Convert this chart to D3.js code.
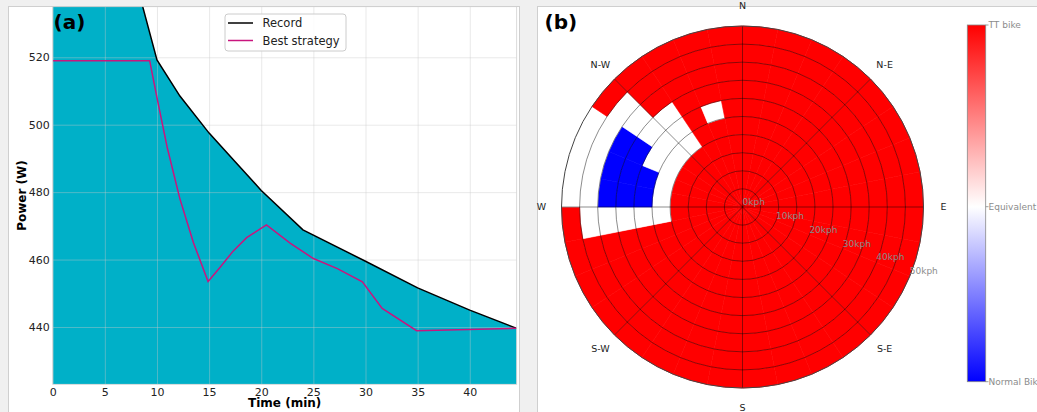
<!DOCTYPE html>
<html>
<head>
<meta charset="utf-8">
<script src="https://cdn.jsdelivr.net/npm/d3@7"></script>
<style>
body { margin: 0; background: #f0f0f0; }
svg { display: block; font-family: "DejaVu Sans", sans-serif; }
</style>
</head>
<body>
<svg id="fig" width="1037" height="412"></svg>
<script>
// ---- (a) power curves ----
var recordTime  = [0, 5, 10, 12.2, 15, 17.5, 20, 24, 30, 35, 40, 44.5];
var recordPower = [635, 577, 519.2, 508.5, 497.5, 489, 480.5, 468.8, 459.5, 451.6, 445, 439.6];
var bestTime  = [0, 9.3, 10, 11, 12.2, 13.5, 14.9, 16, 17.3, 18.6, 20.5, 22.8, 25, 27.3, 29.7, 31.6, 34.9, 44.5];
var bestPower = [519, 519, 508, 493, 478, 465, 453.5, 457.5, 462.5, 466.5, 470.3, 464.8, 460.3, 457.3, 453.4, 445.5, 438.9, 439.6];
var xTicks = [0, 5, 10, 15, 20, 25, 30, 35, 40];
var yTicks = [440, 460, 480, 500, 520];

// ---- (b) polar map: rows = speed bins (5 kph), columns = 32 wind sectors clockwise from N ----
var directionLabels = ["N", "N-E", "E", "S-E", "S", "S-W", "W", "N-W"];
var speedBins = [0, 5, 10, 15, 20, 25, 30, 35, 40, 45, 50];
var speedTicks = [0, 10, 20, 30, 40, 50];
var advantage = [
  [1,1,1,1,1,1,1,1, 1,1,1,1,1,1,1,1, 1,1,1,1,1,1,1,1, 1,1,1,1,1,1,1,1],
  [1,1,1,1,1,1,1,1, 1,1,1,1,1,1,1,1, 1,1,1,1,1,1,1,1, 1,1,1,1,1,1,1,1],
  [1,1,1,1,1,1,1,1, 1,1,1,1,1,1,1,1, 1,1,1,1,1,1,1,1, 1,1,1,1,1,1,1,1],
  [1,1,1,1,1,1,1,1, 1,1,1,1,1,1,1,1, 1,1,1,1,1,1,1,1, 1,1,1,1,1,1,1,1],
  [1,1,1,1,1,1,1,1, 1,1,1,1,1,1,1,1, 1,1,1,1,1,1,1,0, 0,0,0,0,0,1,1,1],
  [1,1,1,1,1,1,1,1, 1,1,1,1,1,1,1,1, 1,1,1,1,1,1,1,0, -1,-1,0,0,0,1,0,1],
  [1,1,1,1,1,1,1,1, 1,1,1,1,1,1,1,1, 1,1,1,1,1,1,1,0, -1,-1,-1,0,0,1,1,1],
  [1,1,1,1,1,1,1,1, 1,1,1,1,1,1,1,1, 1,1,1,1,1,1,1,0, -1,-1,-1,0,1,1,1,1],
  [1,1,1,1,1,1,1,1, 1,1,1,1,1,1,1,1, 1,1,1,1,1,1,1,0, 0,0,0,0,1,1,1,1],
  [1,1,1,1,1,1,1,1, 1,1,1,1,1,1,1,1, 1,1,1,1,1,1,1,1, 0,0,0,1,1,1,1,1]
];
var colorbarTicks = [1, 0, -1];
var colorbarLabels = ["TT bike", "Equivalent", "Normal Bike"];

var svg = d3.select("#fig");

// panels
svg.append("rect").attr("x", 8.5).attr("y", 6.5).attr("width", 511).attr("height", 410)
    .attr("fill", "#fff").attr("stroke", "#cfcfcf");
svg.append("rect").attr("x", 537.5).attr("y", 6.5).attr("width", 505).attr("height", 410)
    .attr("fill", "#fff").attr("stroke", "#cfcfcf");

// ===== (a) =====
var x = d3.scaleLinear().domain([0, 44.5]).range([52.7, 516.7]);
var y = d3.scaleLinear().domain([423, 535]).range([384.3, 6.7]);

svg.append("clipPath").attr("id", "clipA")
    .append("rect").attr("x", 52.7).attr("y", 6.7).attr("width", 464).attr("height", 377.6);

var record = recordTime.map(function (t, i) { return { t: t, p: recordPower[i] }; });
var best = bestTime.map(function (t, i) { return { t: t, p: bestPower[i] }; });

var plotA = svg.append("g").attr("clip-path", "url(#clipA)");

plotA.append("path")
    .datum(record)
    .attr("fill", "#00b0c8")
    .attr("d", d3.area()
        .x(function (d) { return x(d.t); })
        .y0(y(423))
        .y1(function (d) { return y(d.p); }));

// gridlines
plotA.append("g")
    .attr("transform", "translate(0,384.3)")
    .call(d3.axisBottom(x).tickValues(xTicks).tickSize(-377.6).tickFormat(""))
    .call(function (g) { g.select(".domain").remove(); })
    .selectAll("line").attr("stroke", "#c8c8c8").attr("stroke-opacity", 0.4);
plotA.append("g")
    .attr("transform", "translate(52.7,0)")
    .call(d3.axisLeft(y).tickValues(yTicks).tickSize(-464).tickFormat(""))
    .call(function (g) { g.select(".domain").remove(); })
    .selectAll("line").attr("stroke", "#c8c8c8").attr("stroke-opacity", 0.4);

plotA.append("path")
    .datum(record)
    .attr("fill", "none")
    .attr("stroke", "#000")
    .attr("stroke-width", 1.5)
    .attr("d", d3.line()
        .x(function (d) { return x(d.t); })
        .y(function (d) { return y(d.p); }));

plotA.append("path")
    .datum(best)
    .attr("fill", "none")
    .attr("stroke", "#c9157e")
    .attr("stroke-width", 1.5)
    .attr("d", d3.line()
        .x(function (d) { return x(d.t); })
        .y(function (d) { return y(d.p); }));

svg.append("rect").attr("x", 52.7).attr("y", 6.7).attr("width", 464).attr("height", 377.6)
    .attr("fill", "none").attr("stroke", "#d0d0d0").attr("stroke-width", 0.8);

// axes
var xAxis = svg.append("g")
    .attr("transform", "translate(0,384.3)")
    .call(d3.axisBottom(x).tickValues(xTicks).tickSize(0).tickPadding(4));
xAxis.select(".domain").remove();
xAxis.selectAll("text").attr("font-size", 11).attr("fill", "#222").attr("font-family", "DejaVu Sans");

var yAxis = svg.append("g")
    .attr("transform", "translate(52.7,0)")
    .call(d3.axisLeft(y).tickValues(yTicks).tickSize(0).tickPadding(3));
yAxis.select(".domain").remove();
yAxis.selectAll("text").attr("font-size", 11).attr("fill", "#222").attr("font-family", "DejaVu Sans");

svg.append("text")
    .attr("x", 284.7).attr("y", 406.5)
    .attr("text-anchor", "middle")
    .attr("font-size", 12).attr("font-weight", "bold")
    .text("Time (min)");
svg.append("text")
    .attr("transform", "translate(26,195.5) rotate(-90)")
    .attr("text-anchor", "middle")
    .attr("font-size", 12).attr("font-weight", "bold")
    .text("Power (W)");

// legend
var legend = svg.append("g");
legend.append("rect").attr("x", 225).attr("y", 14).attr("width", 121).attr("height", 37).attr("rx", 3)
    .attr("fill", "#fff").attr("fill-opacity", 0.85).attr("stroke", "#cccccc");
var legendItems = [{ name: "Record", color: "#000", y: 23 }, { name: "Best strategy", color: "#c9157e", y: 40.5 }];
legendItems.forEach(function (d) {
    legend.append("line").attr("x1", 228).attr("x2", 253).attr("y1", d.y).attr("y2", d.y)
        .attr("stroke", d.color).attr("stroke-width", 1.5);
    legend.append("text").attr("x", 262.5).attr("y", d.y).attr("dy", "0.35em")
        .attr("font-size", 11.5).attr("fill", "#222").text(d.name);
});

svg.append("text").attr("x", 53.5).attr("y", 29).attr("font-size", 20).attr("font-weight", "bold").text("(a)");

// ===== (b) =====
var cx = 742.5, cy = 207, R = 181;
var r = d3.scaleLinear().domain([0, 50]).range([0, R]);
var color = d3.scaleLinear().domain([-1, 0, 1]).range(["#0000ff", "#ffffff", "#ff0000"]);
var nSectors = advantage[0].length;
var step = 2 * Math.PI / nSectors;

var polar = svg.append("g").attr("transform", "translate(" + cx + "," + cy + ")");

var cells = [];
advantage.forEach(function (row, i) {
    row.forEach(function (v, j) { cells.push({ i: i, j: j, v: v }); });
});

var arc = d3.arc()
    .innerRadius(function (d) { return r(speedBins[d.i]); })
    .outerRadius(function (d) { return r(speedBins[d.i + 1]); })
    .startAngle(function (d) { return d.j * step; })
    .endAngle(function (d) { return (d.j + 1) * step; });

polar.append("g")
    .selectAll("path")
    .data(cells)
    .enter()
    .append("path")
    .attr("d", arc)
    .attr("fill", function (d) { return color(d.v); })
    .attr("stroke", function (d) { return color(d.v); })
    .attr("stroke-width", 0.6);

// grid
polar.append("g")
    .selectAll("circle")
    .data(speedBins.slice(1, -1))
    .enter()
    .append("circle")
    .attr("r", function (d) { return r(d); })
    .attr("fill", "none")
    .attr("stroke", "#000").attr("stroke-opacity", 0.45).attr("stroke-width", 1);

polar.append("g")
    .selectAll("line")
    .data(directionLabels)
    .enter()
    .append("line")
    .attr("x1", 0).attr("y1", 0)
    .attr("x2", function (d, i) { return R * Math.sin(i * Math.PI / 4); })
    .attr("y2", function (d, i) { return -R * Math.cos(i * Math.PI / 4); })
    .attr("stroke", "#000").attr("stroke-opacity", 0.45).attr("stroke-width", 1);

polar.append("circle").attr("r", R).attr("fill", "none").attr("stroke", "#444").attr("stroke-width", 1);

polar.append("g")
    .selectAll("text")
    .data(directionLabels)
    .enter()
    .append("text")
    .attr("x", function (d, i) { return 201 * Math.sin(i * Math.PI / 4); })
    .attr("y", function (d, i) { return -201 * Math.cos(i * Math.PI / 4); })
    .attr("dy", "0.35em")
    .attr("text-anchor", "middle")
    .attr("font-size", 9.5).attr("fill", "#222")
    .text(function (d) { return d; });

var labelAngle = 112.5 * Math.PI / 180;
polar.append("g")
    .selectAll("text")
    .data(speedTicks)
    .enter()
    .append("text")
    .attr("x", function (d) { return r(d) * Math.sin(labelAngle); })
    .attr("y", function (d) { return -r(d) * Math.cos(labelAngle) - 2; })
    .attr("font-size", 9).attr("fill", "#8c8c8c")
    .text(function (d) { return d + "kph"; });

svg.append("text").attr("x", 544.5).attr("y", 29).attr("font-size", 20).attr("font-weight", "bold").text("(b)");

// colorbar
var cb = d3.scaleLinear().domain([-1, 0, 1]).range([381.7, 206.7, 25]);
var grad = svg.append("defs").append("linearGradient").attr("id", "cbGrad")
    .attr("x1", 0).attr("y1", 0).attr("x2", 0).attr("y2", 1);
grad.selectAll("stop")
    .data(colorbarTicks)
    .enter()
    .append("stop")
    .attr("offset", function (d) { return (cb(d) - 25) / (381.7 - 25); })
    .attr("stop-color", function (d) { return color(d); });

svg.append("rect").attr("x", 967.3).attr("y", 25).attr("width", 18.4).attr("height", 356.7)
    .attr("fill", "url(#cbGrad)").attr("stroke", "#888").attr("stroke-width", 0.8);

var cbTicks = svg.append("g");
colorbarTicks.forEach(function (v, i) {
    cbTicks.append("line").attr("x1", 985.7).attr("x2", 988.5).attr("y1", cb(v)).attr("y2", cb(v))
        .attr("stroke", "#888").attr("stroke-width", 0.8);
    cbTicks.append("text").attr("x", 988.5).attr("y", cb(v)).attr("dy", "0.35em")
        .attr("font-size", 9).attr("fill", "#8c8c8c").text(colorbarLabels[i]);
});
</script>
</body>
</html>
